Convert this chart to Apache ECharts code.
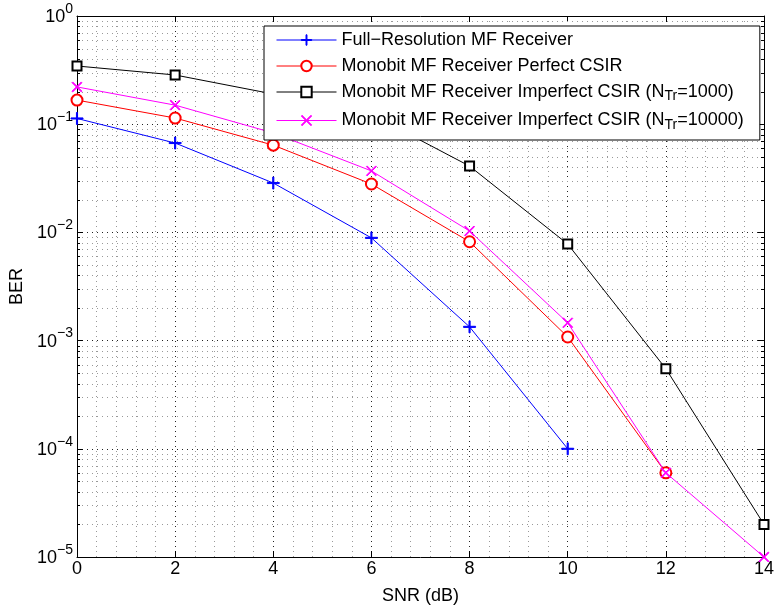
<!DOCTYPE html>
<html>
<head>
<meta charset="utf-8">
<script src="https://cdn.jsdelivr.net/npm/echarts@6/dist/echarts.min.js"></script>
<style>html,body{margin:0;padding:0;background:#fff;}#c{width:777px;height:610px;}</style>
</head>
<body>
<div id="c"></div>
<script>
const snr = [0, 2, 4, 6, 8, 10, 12, 14];
const berFull = [0.113, 0.067, 0.0286, 0.0089, 0.00134, 0.0001];
const berPerfect = [0.167, 0.114, 0.064, 0.028, 0.0082, 0.00108, 0.00006];
const berImp1000 = [0.345, 0.285, 0.19, 0.123, 0.041, 0.0078, 0.00055, 0.00002];
const berImp10000 = [0.221, 0.150, 0.083, 0.037, 0.0103, 0.00146, 0.00006, 0.00001];
const seriesNames = [
  'Full\u2212Resolution MF Receiver',
  'Monobit MF Receiver Perfect CSIR',
  'Monobit MF Receiver Imperfect CSIR (N_Tr=1000)',
  'Monobit MF Receiver Imperfect CSIR (N_Tr=10000)'
];
const legendLabels = [
  'Full\u2212Resolution MF Receiver',
  'Monobit MF Receiver Perfect CSIR',
  'Monobit MF Receiver Imperfect CSIR (N{sub|Tr}=1000)',
  'Monobit MF Receiver Imperfect CSIR (N{sub|Tr}=10000)'
];
const xTicks = [0, 2, 4, 6, 8, 10, 12, 14];
const decades = [1e-5, 1e-4, 1e-3, 1e-2, 1e-1];
const minorMult = [2, 3, 4, 5, 6, 7, 8, 9];
const minorVals = [];
decades.forEach(d => minorMult.forEach(m => minorVals.push([0, m * d])));

const pair = (xs, ys) => ys.map((v, i) => [xs[i], v]);
const plusPath = 'path://M-0.55,-6 L0.55,-6 L0.55,6 L-0.55,6 Z M-6,-0.55 L6,-0.55 L6,0.55 L-6,0.55 Z';
const crossPath = 'path://M-5,-4.3 L-4.3,-5 L0,-0.7 L4.3,-5 L5,-4.3 L0.7,0 L5,4.3 L4.3,5 L0,0.7 L-4.3,5 L-5,4.3 L-0.7,0 Z';

const chart = echarts.init(document.getElementById('c'), null, {renderer: 'canvas'});
const font = 'Liberation Sans, Arial, Helvetica, sans-serif';
const majorGrid = {show: true, lineStyle: {type: [1, 4], color: '#222', width: 1}};
const minorGrid = {show: true, lineStyle: {type: [1, 4], color: '#999', width: 1}};

const lineSeries = (name, data, color, symbol, size, z) => ({
  name, type: 'line', data, symbol, symbolSize: size, showAllSymbol: true,
  lineStyle: {color, width: 1}, itemStyle: {color, borderColor: color, borderWidth: 1},
  emphasis: {disabled: true}, z, animation: false, clip: false
});

chart.setOption({
  animation: false,
  backgroundColor: '#fff',
  textStyle: {fontFamily: font, color: '#000'},
  grid: {left: 77, right: 11, top: 16, bottom: 53, containLabel: false},
  xAxis: [{
    type: 'value', min: 0, max: 14, interval: 2,
    name: 'SNR (dB)', nameLocation: 'middle', nameGap: 30,
    nameTextStyle: {fontSize: 18, color: '#000', fontFamily: font},
    axisLine: {show: true, lineStyle: {color: '#000', width: 1}},
    axisTick: {show: true, inside: true, length: 6, lineStyle: {color: '#000'}},
    axisLabel: {fontSize: 18, color: '#000', margin: 3, fontFamily: font},
    splitLine: majorGrid,
    minorTick: {show: false, splitNumber: 5},
    minorSplitLine: minorGrid
  }, {
    type: 'value', min: 0, max: 14, interval: 2, position: 'top',
    axisLine: {show: true, onZero: false, lineStyle: {color: '#000', width: 1}},
    axisTick: {show: true, inside: true, length: 6, lineStyle: {color: '#000'}},
    axisLabel: {show: false}, splitLine: {show: false}
  }],
  yAxis: [{
    type: 'log', logBase: 10, min: 1e-5, max: 1,
    name: 'BER', nameLocation: 'middle', nameGap: 49,
    nameTextStyle: {fontSize: 18, color: '#000', fontFamily: font},
    axisLine: {show: true, lineStyle: {color: '#000', width: 1}},
    axisTick: {show: true, inside: true, length: 6, lineStyle: {color: '#000'}},
    axisLabel: {
      margin: 4, fontFamily: font,
      formatter: v => {
        const e = Math.round(Math.log10(v));
        return '{b|10}{e|' + (e < 0 ? '\u2212' + (-e) : e) + '}';
      },
      rich: {
        b: {fontSize: 18, color: '#000', verticalAlign: 'bottom', padding: [0, 0, 4, 0], fontFamily: font},
        e: {fontSize: 14, color: '#000', verticalAlign: 'bottom', padding: [0, 0, 14, 0], fontFamily: font}
      }
    },
    splitLine: majorGrid
  }, {
    type: 'log', logBase: 10, min: 1e-5, max: 1, position: 'right',
    axisLine: {show: true, onZero: false, lineStyle: {color: '#000', width: 1}},
    axisTick: {show: true, inside: true, length: 6, lineStyle: {color: '#000'}},
    axisLabel: {show: false}, splitLine: {show: false}
  }],
  legend: {
    orient: 'vertical', left: 264, top: 26, z: 20,
    padding: [5, 16, 8, 12], itemGap: 8, itemWidth: 60, itemHeight: 13,
    backgroundColor: '#fff', borderColor: '#000', borderWidth: 1,
    selectedMode: false,
    lineStyle: {width: 1},
    itemStyle: {borderWidth: 1},
    data: seriesNames,
    formatter: name => legendLabels[seriesNames.indexOf(name)],
    textStyle: {
      fontSize: 18, color: '#000', fontFamily: font,
      rich: {sub: {fontSize: 14, color: '#000', verticalAlign: 'top', padding: [9, 0, 0, 0], fontFamily: font}}
    }
  },
  series: [
    {
      type: 'custom', silent: true, z: 1, clip: false,
      data: minorVals,
      renderItem: (params, api) => {
        const v = api.value(1);
        const p0 = api.coord([0, v]);
        const p1 = api.coord([14, v]);
        const y = Math.round(p0[1]) + 0.5;
        return {type: 'group', children: [
          {type: 'line', shape: {x1: p0[0], y1: y, x2: p1[0], y2: y},
           style: {stroke: '#999', lineWidth: 1, lineDash: [1, 4]}},
          {type: 'line', shape: {x1: p0[0], y1: y, x2: p0[0] + 3, y2: y},
           style: {stroke: '#000', lineWidth: 1}},
          {type: 'line', shape: {x1: p1[0] - 3, y1: y, x2: p1[0], y2: y},
           style: {stroke: '#000', lineWidth: 1}}
        ]};
      }
    },
    lineSeries(seriesNames[0], pair(snr, berFull), '#0000ff', plusPath, 12, 2),
    lineSeries(seriesNames[1], pair(snr, berPerfect), '#ff0000', 'emptyCircle', 11, 2),
    lineSeries(seriesNames[2], pair(snr, berImp1000), '#000000', 'emptyRect', 9, 2),
    lineSeries(seriesNames[3], pair(snr, berImp10000), '#ff00ff', crossPath, 10, 2)
  ]
});
</script>
</body>
</html>
